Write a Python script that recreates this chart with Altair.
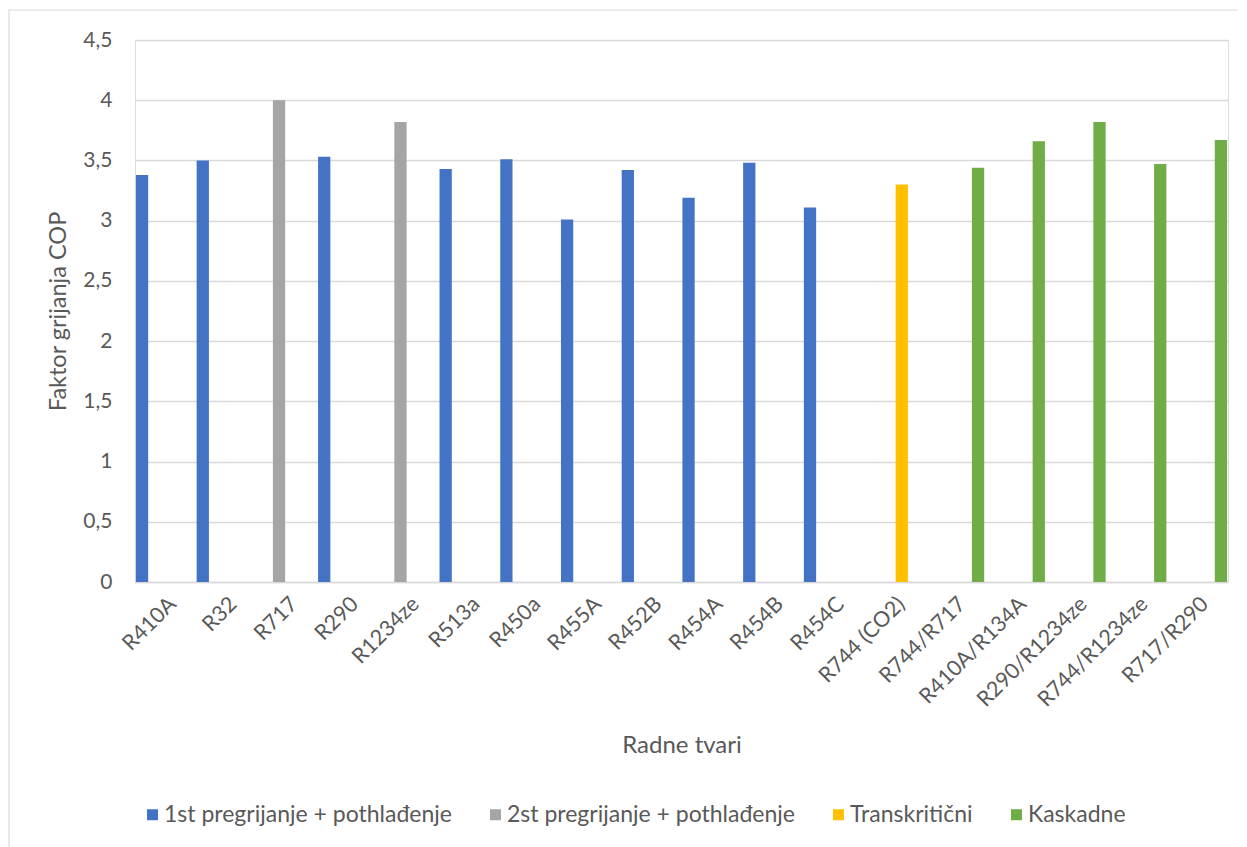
import altair as alt
import pandas as pd

categories = ["R410A", "R32", "R717", "R290", "R1234ze", "R513a", "R450a", "R455A",
              "R452B", "R454A", "R454B", "R454C", "R744 (CO2)", "R744/R717",
              "R410A/R134A", "R290/R1234ze", "R744/R1234ze", "R717/R290"]
values = [3.38, 3.50, 4.00, 3.53, 3.82, 3.43, 3.51, 3.01, 3.42, 3.19, 3.48, 3.11,
          3.30, 3.44, 3.66, 3.82, 3.47, 3.67]
series_names = ["1st pregrijanje + pothlađenje", "2st pregrijanje + pothlađenje",
                "Transkritični", "Kaskadne"]
series_index = [0, 0, 1, 0, 1, 0, 0, 0, 0, 0, 0, 0, 2, 3, 3, 3, 3, 3]
colors = ["#4472C4", "#A5A5A5", "#FFC000", "#70AD47"]
y_ticks = [0, 0.5, 1, 1.5, 2, 2.5, 3, 3.5, 4, 4.5]

df = pd.DataFrame({
    "cat": categories,
    "val": values,
    "ser": [series_names[i] for i in series_index],
})

FONT = "Lato"
GREY = "#595959"
W, H = 1093, 542

bars = alt.Chart(df).mark_bar().encode(
    x=alt.X("cat:N", sort=categories,
            scale=alt.Scale(paddingInner=0.03, paddingOuter=0.015),
            axis=alt.Axis(title="Radne tvari", labelAngle=-45, labelFontSize=21.5,
                          labelPadding=11, ticks=False, domainColor="#d9d9d9",
                          domainWidth=1.5, titleFontSize=24, titleFontWeight="normal",
                          titleY=163, titleBaseline="middle", labelColor=GREY,
                          titleColor=GREY)),
    xOffset=alt.XOffset("ser:N", scale=alt.Scale(domain=series_names, paddingInner=0.21,
                                                 paddingOuter=0)),
    y=alt.Y("val:Q", scale=alt.Scale(domain=[0, 4.5], nice=False),
            axis=alt.Axis(title="Faktor grijanja COP", values=y_ticks, grid=True,
                          gridColor="#d9d9d9", gridWidth=1.5, domain=False, ticks=False,
                          labelPadding=23, labelFontSize=21, labelColor=GREY,
                          labelExpr="replace(toString(datum.value), '.', ',')",
                          titleFontSize=23.5, titleFontWeight="normal", titleColor=GREY,
                          titleX=-77, titleY=271, titleAngle=270, titleAlign="center",
                          titleBaseline="middle")),
    color=alt.Color("ser:N", scale=alt.Scale(domain=series_names, range=colors),
                    legend=alt.Legend(title=None, orient="none", direction="horizontal",
                                      legendX=6, legendY=763, symbolType="square",
                                      symbolSize=121, symbolStrokeWidth=0,
                                      labelFontSize=23, labelColor=GREY, labelOffset=0,
                                      columnPadding=32, padding=0, labelLimit=400)),
)

border = alt.Chart(pd.DataFrame({"a": [0]})).mark_rect(
    fill=None, stroke="#d9d9d9", strokeWidth=1.2
).encode(x=alt.value(-126), x2=alt.value(W + 200), y=alt.value(-30), y2=alt.value(H + 400))

chart = alt.layer(border, bars).properties(
    width=W, height=H,
    autosize=alt.AutoSizeParams(type="none"),
    padding={"left": 127, "top": 32, "right": 10, "bottom": 265},
).configure_view(stroke=None).configure(font=FONT)

chart.save("out.html", embed_options={"renderer": "svg", "actions": False})
